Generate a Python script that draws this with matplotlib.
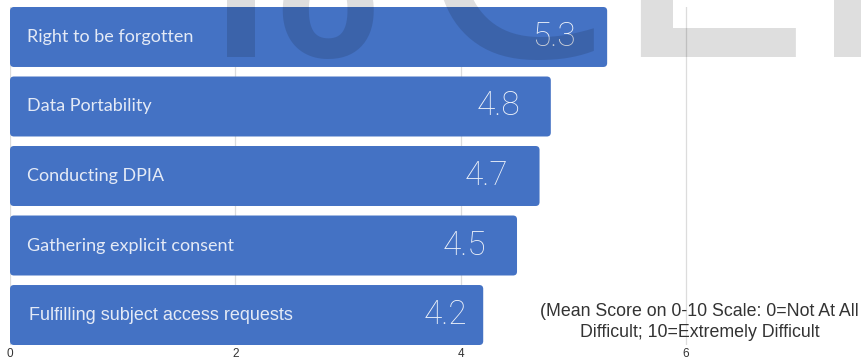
import matplotlib.pyplot as plt
from matplotlib.patches import FancyBboxPatch
from matplotlib.textpath import TextPath
from matplotlib.font_manager import FontProperties

# difficulty scores, highest first
categories = ["Right to be forgotten", "Data Portability", "Conducting DPIA",
              "Gathering explicit consent", "Fulfilling subject access requests"]
scores = [5.3, 4.8, 4.7, 4.5, 4.2]
ticks = [0, 2, 4, 6]
note = "(Mean Score on 0-10 Scale: 0=Not At All\nDifficult; 10=Extremely Difficult"

BLUE = "#4472c4"
BAR_H = 0.863
W, H, DPI = 861, 360, 100

fig = plt.figure(figsize=(W/DPI, H/DPI), dpi=DPI)
ax = fig.add_axes([10/W, 15/H, 851/W, 338/H])

ypos = list(range(len(categories)))
bars = ax.barh(ypos, scores, height=BAR_H, color=BLUE, zorder=2)

ax.set_xlim(0, 7.553)
ax.set_ylim(len(categories) - 1 + BAR_H/2, -BAR_H/2)

# swap the plain rectangles for ones with slightly rounded corners
aspect = (851/7.553) / (338/(len(categories) - 1 + BAR_H))
for b in bars:
    x, y = b.get_xy()
    w, h = b.get_width(), b.get_height()
    b.remove()
    ax.add_patch(FancyBboxPatch((x, y), w, h,
                                boxstyle="round,pad=0,rounding_size=0.035",
                                mutation_aspect=aspect, fc=BLUE, ec="none",
                                zorder=2))

# names inside the bars, values at the right end
for i, (name, val) in enumerate(zip(categories, scores)):
    last = i == len(categories) - 1
    ax.text(0.17 if last else 0.15, i, name, color="#e4eaf6",
            fontsize=13, va="center",
            family="Liberation Sans" if last else "Lato", zorder=4)
    ax.text(val - (0.14 if last else 0.275), i, f"{val:.1f}", color="#eef2fa",
            fontsize=24, ha="right", va="center", family="Roboto",
            fontweight="light", zorder=4)

ax.set_xticks(ticks)
ax.set_xticklabels([str(t) for t in ticks], family="Liberation Sans",
                   fontsize=8.5, color="#333333")
ax.tick_params(axis="x", length=0, pad=2)
ax.set_yticks([])
ax.grid(axis="x", color="#dcdcdc", linewidth=0.9, zorder=0)
for s in ax.spines.values():
    s.set_visible(False)

ax.text(6.12, 4.1, note, ha="center", va="center", fontsize=12.8,
        family="Liberation Sans", color="#333333", linespacing=1.3, zorder=4)

# faint watermark lettering across the top; each glyph is scaled so its
# ink spans [left, right] pixels, with the side bearing taken out
baseline = 57
for ch, left, right, weight in [("I", 227, 255, "normal"), ("o", 282, 373, "bold"),
                                ("C", 435, 602, "normal"), ("L", 640, 795, "normal"),
                                ("I", 834, 862, "normal")]:
    fp = FontProperties(family="Open Sans", weight=weight)
    ext = TextPath((0, 0), ch, size=100, prop=fp).get_extents()
    size_px = 100 * (right - left) / ext.width
    x0 = left - ext.x0 * size_px / 100
    fig.text(x0/W, (H - baseline)/H, ch, fontsize=size_px*72/DPI, color="black",
             alpha=0.13, fontproperties=fp, ha="left", va="baseline", zorder=5)

fig.savefig("out.png", dpi=DPI)
